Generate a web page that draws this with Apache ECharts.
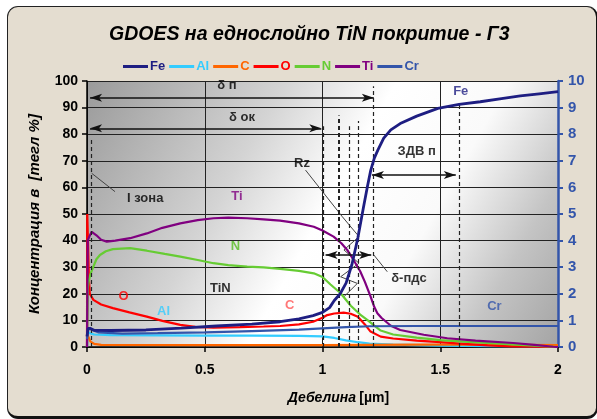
<!DOCTYPE html>
<html>
<head>
<meta charset="utf-8">
<script src="https://cdn.jsdelivr.net/npm/echarts@6/dist/echarts.min.js"></script>
<style>
html,body{margin:0;padding:0;background:#ffffff;width:597px;height:419px;overflow:hidden;}
#frame{position:absolute;left:7px;top:6px;width:588px;height:409px;border-radius:11px;background:#e4ddd0;border-left:1px solid #222;border-top:1px solid #222;border-right:2px solid #111;border-bottom:3px solid #111;}
#chart{position:absolute;left:0;top:0;width:597px;height:419px;}
</style>
</head>
<body>
<div id="frame"></div>
<div id="chart"></div>
<script>
// ---- data (x = thickness µm, y = wt %) ----
const titleText = 'GDOES на еднослойно TiN покритие - Г3';
const seriesNames = ['Fe', 'Al', 'C', 'O', 'N', 'Ti', 'Cr'];
const seriesColors = ['#1e1e82', '#33ccff', '#ff6600', '#ff0000', '#66cc33', '#800080', '#3355aa'];

const feData = [[0,4],[0.005,7],[0.015,7],[0.03,6.3],[0.1,6.2],[0.25,6.4],[0.4,7.1],[0.55,7.9],[0.7,8.6],[0.82,9.5],[0.9,10.6],[0.96,11.8],[1.0,13],[1.03,14.8],[1.05,17.5],[1.075,20],[1.1,24],[1.125,31],[1.15,41],[1.175,53],[1.19,60],[1.205,66.5],[1.22,71],[1.235,74],[1.26,78.5],[1.29,81.6],[1.33,84],[1.4,86.8],[1.49,89.7],[1.58,91.2],[1.67,92.2],[1.76,93.4],[1.84,94.4],[1.92,95.2],[2,96]];
const alData = [[0,0],[0.003,5.5],[0.01,5],[0.03,4.7],[0.1,4.5],[0.3,4.4],[0.5,4.3],[0.7,4.3],[0.9,4.2],[1.0,4.0],[1.05,3.4],[1.1,2.5],[1.15,1.8],[1.2,1.3],[1.3,0.9],[1.4,0.7],[1.5,0.5],[1.7,0.3],[2,0.2]];
const cData = [[0,5],[0.005,4],[0.015,2],[0.03,1.2],[0.06,0.8],[0.5,0.7],[1.0,0.7],[1.2,0.8],[1.4,0.9],[1.6,0.9],[1.8,0.8],[2,0.7]];
const oData = [[0,0],[0.001,50],[0.004,40],[0.008,26],[0.012,20],[0.027,17.7],[0.06,16],[0.11,14.6],[0.18,13],[0.254,11.4],[0.32,9.8],[0.396,8.3],[0.46,7.6],[0.537,7.3],[0.65,7.5],[0.75,7.7],[0.82,7.9],[0.9,8.5],[0.96,9.5],[1.0,11],[1.02,12],[1.05,12.6],[1.09,12.9],[1.12,12.5],[1.15,11.4],[1.18,8.5],[1.204,5.8],[1.247,3.9],[1.3,3.2],[1.4,2.4],[1.5,1.8],[1.6,1.2],[1.7,0.6],[1.8,0.2],[1.9,0.1],[2,0]];
const nData = [[0,0],[0.003,22],[0.008,25],[0.015,27.5],[0.027,30.2],[0.04,33],[0.055,34.6],[0.08,36],[0.11,36.8],[0.183,37.2],[0.254,36.2],[0.33,35],[0.396,34],[0.47,32.7],[0.537,31.5],[0.6,30.8],[0.68,30.2],[0.75,29.9],[0.82,29.4],[0.9,28.6],[0.963,27.7],[1.0,26.3],[1.034,23.5],[1.077,20.2],[1.12,15.5],[1.16,12.2],[1.19,10.2],[1.22,8],[1.247,6.2],[1.3,4.7],[1.4,3.5],[1.5,2.6],[1.6,2],[1.7,1.5],[1.8,1],[1.9,0.5],[2,0]];
const tiData = [[0,0],[0.003,40],[0.01,41.5],[0.02,43.3],[0.04,42],[0.06,40.3],[0.084,39.6],[0.12,40],[0.183,40.9],[0.254,42.7],[0.32,44.8],[0.396,46.5],[0.47,47.7],[0.537,48.4],[0.6,48.6],[0.68,48.4],[0.75,48],[0.82,47.5],[0.9,46.5],[0.963,45.2],[1.0,43.8],[1.047,41.5],[1.08,39],[1.105,36.5],[1.13,33],[1.16,28.5],[1.18,24.5],[1.204,19],[1.22,15],[1.233,12.7],[1.25,11],[1.29,8],[1.33,6.4],[1.43,4.6],[1.53,3.3],[1.65,2.4],[1.81,1.5],[1.9,0.8],[1.98,0.1],[2,0]];
// Cr on right axis (0-10)
const crData = [[0,0.3],[0.005,0.7],[0.02,0.65],[0.05,0.55],[0.15,0.5],[0.3,0.52],[0.5,0.55],[0.7,0.6],[0.9,0.65],[1.0,0.7],[1.1,0.75],[1.2,0.78],[1.4,0.79],[1.6,0.79],[1.8,0.79],[2,0.79]];

const xTicks = [0, 0.5, 1, 1.5, 2];
const leftTicks = [0,10,20,30,40,50,60,70,80,90,100];
const rightTicks = [0,1,2,3,4,5,6,7,8,9,10];

// annotation arrows: [x1, x2, y]
const arrows = [[0.013, 1.218, 93.7], [0.013, 0.995, 82.2], [1.21, 1.566, 64.7], [1.013, 1.207, 34.6]];
// dashed verticals: [x, yTop, width]
const dashedLines = [[0.02, 78, 1.2], [1.003, 83, 1.2], [1.071, 87, 2], [1.113, 83, 1.2], [1.15, 85, 1.2], [1.216, 98, 1.2], [1.58, 92, 1.2]];
// leader lines
const leaderIzona = [[0.02,65.3],[0.119,58.4]];
const leaderRz = [[0.928,66.5],[1.084,49],[1.155,41.5],[1.091,36.5],[1.155,31.5],[1.077,26.4],[1.148,23.9],[1.091,18.9]];
const leaderPds = [[1.218,34.6],[1.275,28.3]];
// text annotations: [text, x, y, color]
const notes = [
  ['δ п', 0.594, 98.2, '#000'], ['δ ок', 0.658, 86.3, '#000'], ['I зона', 0.247, 56, '#000'],
  ['Rz', 0.913, 69.2, '#000'], ['ЗДВ п', 1.40, 73.4, '#000'], ['δ-пдс', 1.367, 25.8, '#000'],
  ['Fe', 1.587, 95.9, '#1e1e82'], ['Ti', 0.637, 56.5, '#800080'], ['N', 0.63, 37.7, '#55bb22'],
  ['TiN', 0.566, 22, '#000'], ['O', 0.155, 18.9, '#ff0000'], ['Al', 0.325, 13.3, '#33ccff'],
  ['C', 0.861, 15.8, '#ff5555'], ['Cr', 1.73, 15.2, '#3355aa']
];

const chart = echarts.init(document.getElementById('chart'), null, {renderer: 'canvas'});
const elemData = [feData, alData, cData, oData, nData, tiData, crData];
const FONT = '"Liberation Sans", Arial, sans-serif';
const NARROW = '"Liberation Sans Narrow", "Liberation Sans", Arial, sans-serif';

const series = seriesNames.map((n, i) => ({
  name: n, type: 'line', data: elemData[i], yAxisIndex: n === 'Cr' ? 1 : 0,
  showSymbol: false, symbol: 'none', smooth: false, z: n === 'Fe' ? 5 : 4,
  lineStyle: {color: seriesColors[i], width: n === 'Fe' ? 2.8 : 2.2}, itemStyle: {color: seriesColors[i]}
}));

series.push({
  name: 'arrows', type: 'line', data: [], silent: true,
  markLine: {
    silent: true, symbol: ['arrow', 'arrow'], symbolSize: [6, 12], label: {show: false},
    lineStyle: {color: '#111', width: 1.5, type: 'solid'},
    data: arrows.map(a => [{coord: [a[0], a[2]]}, {coord: [a[1], a[2]]}])
  }
});
series.push({
  name: 'dashes', type: 'line', data: [], silent: true,
  markLine: {
    silent: true, symbol: ['none', 'none'], label: {show: false},
    data: dashedLines.map(d => [{coord: [d[0], 0], lineStyle: {color: '#222', width: d[2], type: [4, 3]}}, {coord: [d[0], d[1]]}])
  }
});
[leaderIzona, leaderRz, leaderPds].forEach((ld, k) => series.push({
  name: 'leader' + k, type: 'line', data: ld, showSymbol: false, symbol: 'none', silent: true,
  lineStyle: {color: '#444', width: 1}, z: 3
}));
series.push({
  name: 'notes', type: 'scatter', symbolSize: 1, itemStyle: {color: 'rgba(0,0,0,0)'}, silent: true, z: 10,
  data: notes.map(n => ({name: n[0], value: [n[1], n[2]],
    label: {show: true, position: 'inside', formatter: n[0], color: n[3], fontSize: 13, fontWeight: 'bold', fontFamily: FONT}}))
});

const option = {
  animation: false,
  title: {text: titleText, left: 104, top: 20,
    textStyle: {fontSize: 19.5, fontWeight: 'bold', fontStyle: 'italic', color: '#000', fontFamily: FONT}},
  legend: {
    left: 118, top: 55, itemWidth: 25, itemHeight: 3, itemGap: 4, icon: 'rect',
    textStyle: {fontSize: 13, fontWeight: 'bold', fontFamily: NARROW, padding: [0, 0, 0, -3]},
    data: seriesNames.map((n, i) => ({name: n, textStyle: {color: seriesColors[i]}}))
  },
  grid: {
    left: 87, right: 39, top: 81, bottom: 72, show: true, borderWidth: 0,
    backgroundColor: new echarts.graphic.LinearGradient(0, 0, 1, 1, [
      {offset: 0, color: '#9a9a9a'}, {offset: 0.32, color: '#d4d4d4'}, {offset: 0.5, color: '#ffffff'},
      {offset: 0.68, color: '#fafafa'}, {offset: 0.85, color: '#c4c4c4'}, {offset: 1, color: '#a4a4a4'}])
  },
  xAxis: {
    type: 'value', min: xTicks[0], max: xTicks[xTicks.length - 1], interval: 0.5,
    name: '{a|Дебелина} {b|[µm]}', nameLocation: 'middle', nameGap: 44,
    nameTextStyle: {padding: [0, 0, 0, 32], rich: {
      a: {fontSize: 14, fontWeight: 'bold', fontStyle: 'italic', color: '#000', fontFamily: FONT},
      b: {fontSize: 14, fontWeight: 'bold', color: '#000', fontFamily: FONT}}},
    axisLine: {show: true, onZero: false, lineStyle: {color: '#000', width: 1.5}},
    axisTick: {show: true, length: 5, lineStyle: {color: '#000', width: 1.5}},
    axisLabel: {fontSize: 14, fontWeight: 'bold', color: '#000', margin: 16, fontFamily: FONT},
    splitLine: {show: true, lineStyle: {color: '#222', width: 1}}
  },
  yAxis: [{
    type: 'value', min: leftTicks[0], max: leftTicks[leftTicks.length - 1], interval: 10,
    name: 'Концентрация в  [тегл %]', nameLocation: 'middle', nameGap: 45,
    nameTextStyle: {fontSize: 15, fontWeight: 'bold', fontStyle: 'italic', color: '#000', fontFamily: FONT},
    axisLine: {show: true, lineStyle: {color: '#000', width: 1.5}},
    axisTick: {show: true, length: 5, lineStyle: {color: '#000', width: 1.5}},
    axisLabel: {fontSize: 14, fontWeight: 'bold', color: '#000', margin: 9, fontFamily: FONT},
    splitLine: {show: true, lineStyle: {color: '#222', width: 1}}
  }, {
    type: 'value', min: rightTicks[0], max: rightTicks[rightTicks.length - 1], interval: 1, position: 'right',
    axisLine: {show: true, lineStyle: {color: '#3355aa', width: 2.5}},
    axisTick: {show: true, length: 5, lineStyle: {color: '#3355aa', width: 2}},
    axisLabel: {fontSize: 15, fontWeight: 'bold', color: '#3355aa', margin: 10, fontFamily: NARROW},
    splitLine: {show: false}
  }],
  series: series
};
chart.setOption(option);
</script>
</body>
</html>
